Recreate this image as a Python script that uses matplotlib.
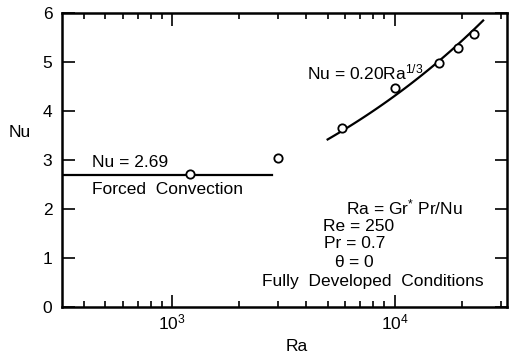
import numpy as np
import matplotlib
matplotlib.use("Agg")
import matplotlib.pyplot as plt
from matplotlib.ticker import LogLocator, NullFormatter

# data
ra_points = [1200, 3000, 5800, 10000, 15800, 19200, 22700]
nu_points = [2.72, 3.04, 3.65, 4.47, 4.98, 5.29, 5.57]

nu_forced = 2.69
ra_forced_range = [320, 2800]

corr_coef = 0.20
ra_corr_range = [5000, 25000]

plt.rcParams['font.family'] = ['Liberation Sans', 'DejaVu Sans']
plt.rcParams['mathtext.default'] = 'regular'
plt.rcParams['font.size'] = 12.5

fig = plt.figure(figsize=(5.10, 3.58), dpi=100)
ax = fig.add_axes([0.1216, 0.1425, 0.8725, 0.821])

# forced convection line
ax.plot(ra_forced_range, [nu_forced, nu_forced], color='black', lw=1.6)

# Nu = 0.20 Ra^(1/3)
ra_c = np.logspace(np.log10(ra_corr_range[0]), np.log10(ra_corr_range[1]), 100)
ax.plot(ra_c, corr_coef * ra_c ** (1 / 3), color='black', lw=1.6)

ax.plot(ra_points, nu_points, 'o', mfc='white', mec='black', ms=6, mew=1.3)

ax.set_xscale('log')
ax.set_xlim(320, 32000)
ax.set_ylim(0, 6)
ax.set_yticks(range(0, 7))
ax.xaxis.set_minor_locator(LogLocator(base=10, subs=np.arange(2, 10)))
ax.xaxis.set_minor_formatter(NullFormatter())

ax.tick_params(which='both', direction='in', top=True, right=True, width=1.2)
ax.tick_params(which='major', length=9)
ax.tick_params(which='minor', length=4)
ax.tick_params(axis='x', pad=4)
ax.tick_params(axis='y', pad=7)
for s in ax.spines.values():
    s.set_linewidth(1.8)

ax.set_xlabel('Ra')
ax.xaxis.set_label_coords(0.528, -0.11)
ax.set_ylabel('Nu', rotation=0, va='center', ha='center')
ax.yaxis.set_label_coords(-0.094, 0.592)

ax.text(436, 2.94, 'Nu = 2.69', ha='left', va='center')
ax.text(436, 2.39, 'Forced  Convection', ha='left', va='center')
ax.text(4055, 4.78, 'Nu = 0.20Ra$^{1/3}$', ha='left', va='center')

ax.text(11100, 2.04, 'Ra = Gr$^{*}$ Pr/Nu', ha='center', va='center')
ax.text(6890, 1.65, 'Re = 250', ha='center', va='center')
ax.text(6610, 1.29, 'Pr = 0.7', ha='center', va='center')
ax.text(6610, 0.92, r'$\theta$ = 0', ha='center', va='center')
ax.text(7940, 0.53, 'Fully  Developed  Conditions', ha='center', va='center')

fig.savefig('out.png', dpi=100)
